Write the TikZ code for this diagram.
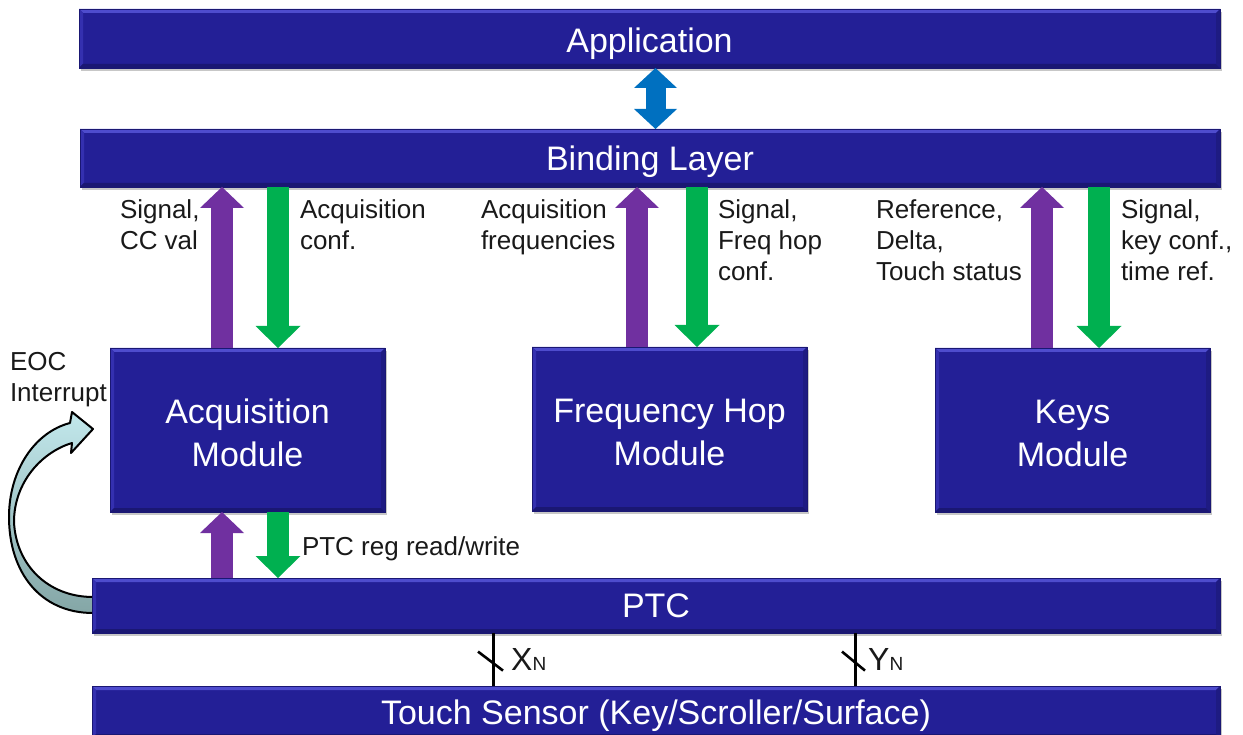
\documentclass[tikz,border=0pt]{standalone}
\usepackage{fontspec}
\setmainfont{Liberation Sans}
\usetikzlibrary{arrows.meta,shadows}
\definecolor{barblue}{RGB}{35,31,150}
\definecolor{barhi}{RGB}{78,76,205}
\definecolor{barleft}{RGB}{52,48,175}
\definecolor{barlo}{RGB}{26,23,115}
\definecolor{barright}{RGB}{30,27,130}
\definecolor{arrpurple}{RGB}{112,48,160}
\definecolor{arrgreen}{RGB}{0,176,80}
\definecolor{arrblue}{RGB}{0,112,192}
\definecolor{eoctop}{RGB}{194,232,236}
\definecolor{eocbot}{RGB}{132,166,166}
\definecolor{labeltext}{RGB}{25,25,25}
\newcommand\firstln{\rule{0pt}{29.5pt}}
\begin{document}
\begin{tikzpicture}[x=1pt,y=-1pt,
  bevel/.style={path picture={
    \fill[barhi] (path picture bounding box.north west) -- (path picture bounding box.north east)
      -- ([xshift=-4pt,yshift=-4pt]path picture bounding box.north east)
      -- ([xshift=4pt,yshift=-4pt]path picture bounding box.north west) -- cycle;
    \fill[barleft] (path picture bounding box.north west) -- ([xshift=4pt,yshift=-4pt]path picture bounding box.north west)
      -- ([xshift=4pt,yshift=4pt]path picture bounding box.south west)
      -- (path picture bounding box.south west) -- cycle;
    \fill[barlo] (path picture bounding box.south west) -- (path picture bounding box.south east)
      -- ([xshift=-4pt,yshift=4pt]path picture bounding box.south east)
      -- ([xshift=4pt,yshift=4pt]path picture bounding box.south west) -- cycle;
    \fill[barright] (path picture bounding box.north east) -- ([xshift=-4pt,yshift=-4pt]path picture bounding box.north east)
      -- ([xshift=-4pt,yshift=4pt]path picture bounding box.south east)
      -- (path picture bounding box.south east) -- cycle;
  }},
  blk/.style={rectangle, fill=barblue, draw=barlo, line width=0.6pt, inner sep=0pt, outer sep=0pt,
    text=white, anchor=north west, bevel,
    drop shadow={shadow xshift=2pt, shadow yshift=-3pt, opacity=0.22, fill=black}},
  barbox/.style={blk, font=\fontsize{34}{40}\selectfont, text height=24.5pt, text depth=0pt},
  modbox/.style={blk, align=center, font=\fontsize{34}{43}\selectfont,
    minimum width=275pt, minimum height=164pt},
  lbl/.style={inner sep=0pt, outer sep=0pt, anchor=north west, align=left, text=labeltext,
    font=\fontsize{26}{31}\selectfont},
  uparr/.style={draw=arrpurple, line width=22pt,
    -{Triangle[width=44pt,length=21pt,line width=0pt]}},
  dnarr/.style={draw=arrgreen, line width=22pt,
    -{Triangle[width=45pt,length=22pt,line width=0pt]}},
  dblarr/.style={draw=arrblue, line width=20pt,
    {Triangle[width=43pt,length=20pt,line width=0pt]}-{Triangle[width=43pt,length=20pt,line width=0pt]}},
  bus/.style={draw=black, line width=3pt},
  slashln/.style={draw=black, line width=2.6pt},
]
\useasboundingbox (0,0) rectangle (1243,735);

% EOC interrupt curved arrow (drawn under the PTC bar)
\path[draw=black, line width=2pt, line join=round, top color=eoctop, bottom color=eocbot]
  (93,613) .. controls (40,613) and (9,572) .. (9,517)
  .. controls (9,470) and (35,432) .. (70,423)
  -- (72,412) -- (93,429) -- (71,453) -- (72,443)
  .. controls (42,452) and (14,482) .. (14,522)
  .. controls (16,565) and (48,597) .. (93,597) -- cycle;

% bars
\node[barbox, text height=28.4pt, minimum width=1141pt, minimum height=59pt] (app) at (79,9) {Application};
\node[barbox, minimum width=1140pt, minimum height=58pt] (bind) at (80,129) {Binding Layer};
\node[barbox, minimum width=1128pt, minimum height=55pt] (ptc) at (92,578) {PTC};
\node[barbox, minimum width=1128pt, minimum height=52pt] (touch) at (92,686) {Touch Sensor (Key/Scroller/Surface)};

% modules
\node[modbox] (acq) at (110,348) {\firstln Acquisition\\Module};
\node[modbox] (freq) at (532,347) {\firstln Frequency Hop\\Module};
\node[modbox] (keys) at (935,348) {\firstln Keys\\Module};

% application <-> binding layer
\coordinate (ab) at ([xshift=6pt]app.south);
\draw[dblarr] (ab) -- (ab |- bind.north);

% acquisition module arrows
\coordinate (a1) at ([xshift=-25.5pt]acq.north);
\coordinate (a2) at ([xshift=30.5pt]acq.north);
\draw[uparr] (a1) -- (a1 |- bind.south);
\draw[dnarr] (a2 |- bind.south) -- (a2);

% frequency hop arrows
\coordinate (f1) at ([xshift=-32.5pt]freq.north);
\coordinate (f2) at ([xshift=27.5pt]freq.north);
\draw[uparr] (f1) -- (f1 |- bind.south);
\draw[dnarr] (f2 |- bind.south) -- (f2);

% keys arrows
\coordinate (k1) at ([xshift=-30.5pt]keys.north);
\coordinate (k2) at ([xshift=26.5pt]keys.north);
\draw[uparr] (k1) -- (k1 |- bind.south);
\draw[dnarr] (k2 |- bind.south) -- (k2);

% acquisition <-> PTC
\coordinate (p1) at ([xshift=-25.5pt]acq.south);
\coordinate (p2) at ([xshift=30.5pt]acq.south);
\draw[uparr] (p1 |- ptc.north) -- (p1);
\draw[dnarr] (p2) -- (p2 |- ptc.north);

% buses PTC -> touch sensor
\coordinate (xb) at ([xshift=-163pt]ptc.south);
\coordinate (yb) at ([xshift=199pt]ptc.south);
\draw[bus] (xb) -- (xb |- touch.north) coordinate[pos=0.53] (xm);
\draw[bus] (yb) -- (yb |- touch.north) coordinate[pos=0.53] (ym);
\draw[slashln] ([shift={(-15,-9.5)}]xm) -- ([shift={(10,9.5)}]xm);
\draw[slashln] ([shift={(-13,-9.5)}]ym) -- ([shift={(10,9.5)}]ym);
\node[inner sep=0pt, anchor=base west, text=labeltext, font=\fontsize{32}{32}\selectfont] (xn) at (511,670)
  {X\fontsize{19}{19}\selectfont N};
\node[inner sep=0pt, anchor=base west, text=labeltext, font=\fontsize{32}{32}\selectfont] (yn) at (868,670)
  {Y\fontsize{19}{19}\selectfont N};

% labels
\node[lbl] (l1) at (120,197.3) {\strut Signal,\\CC val};
\node[lbl] (l2) at (300,197.3) {\strut Acquisition\\conf.};
\node[lbl] (l3) at (481,197.3) {\strut Acquisition\\frequencies};
\node[lbl] (l4) at (718,197.3) {\strut Signal,\\Freq hop\\conf.};
\node[lbl] (l5) at (876,197.3) {\strut Reference,\\Delta,\\Touch status};
\node[lbl] (l6) at (1121,197.3) {\strut Signal,\\key conf.,\\time ref.};
\node[lbl] (l7) at (10,349.3) {\strut EOC\\Interrupt};
\node[lbl] (l8) at (302,533.3) {\strut PTC reg read/write};
\end{tikzpicture}
\end{document}
